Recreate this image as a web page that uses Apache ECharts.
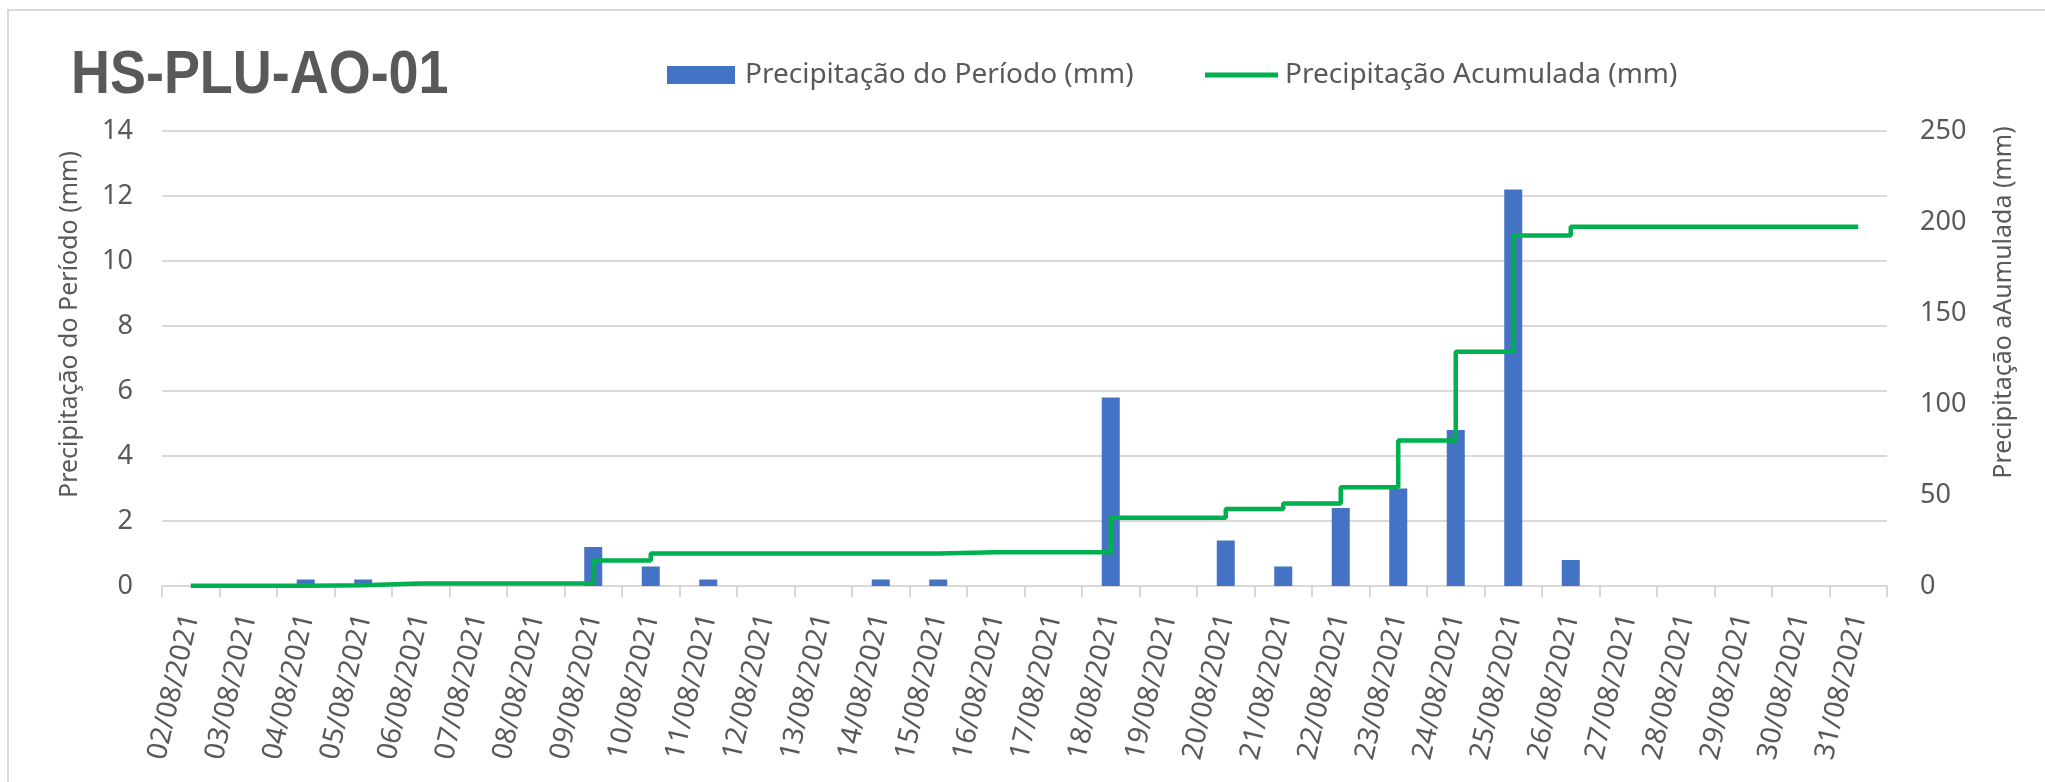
<!DOCTYPE html>
<html>
<head>
<meta charset="utf-8">
<script src="https://cdn.jsdelivr.net/npm/echarts@6/dist/echarts.min.js"></script>
<style>
html,body{margin:0;padding:0;background:#fff;}
#chart{width:2045px;height:782px;}
</style>
</head>
<body>
<div id="chart"></div>
<script>
const titleText = 'HS-PLU-AO-01';
const barName = 'Precipitação do Período (mm)';
const lineName = 'Precipitação Acumulada (mm)';
const leftAxisName = 'Precipitação do Período (mm)';
const rightAxisName = 'Precipitação aAumulada (mm)';

const dates = ['02/08/2021','03/08/2021','04/08/2021','05/08/2021','06/08/2021','07/08/2021','08/08/2021','09/08/2021','10/08/2021','11/08/2021','12/08/2021','13/08/2021','14/08/2021','15/08/2021','16/08/2021','17/08/2021','18/08/2021','19/08/2021','20/08/2021','21/08/2021','22/08/2021','23/08/2021','24/08/2021','25/08/2021','26/08/2021','27/08/2021','28/08/2021','29/08/2021','30/08/2021','31/08/2021'];

const periodo = [0,0,0.2,0.2,0,0,0,1.2,0.6,0.2,0,0,0.2,0.2,0,0,5.8,0,1.4,0.6,2.4,3.0,4.8,12.2,0.8,0,0,0,0,0];

const acumulada = [0.2,0.2,0.4,1.4,1.4,1.4,1.4,14.0,17.8,17.8,17.8,17.8,17.8,18.6,18.6,18.6,37.5,37.5,42.3,45.3,54.3,79.9,128.7,192.6,197.4,197.4,197.4,197.4,197.4,197.4];

const leftRange = [0, 14, 2];
const rightRange = [0, 250, 50];

const textColor = '#595959';
const gridColor = '#D9D9D9';
const fontMain = '"Noto Sans", "Open Sans", sans-serif';

const chart = echarts.init(document.getElementById('chart'), null, {renderer: 'canvas'});
chart.setOption({
  animation: false,
  backgroundColor: '#ffffff',
  graphic: [{
    type: 'rect',
    shape: {x: 8, y: 10, width: 2100, height: 850},
    style: {fill: 'none', stroke: gridColor, lineWidth: 2},
    silent: true
  }, {
    type: 'text',
    x: 71,
    y: 76,
    scaleX: 0.87,
    silent: true,
    style: {
      text: titleText,
      fontFamily: '"Liberation Sans", Arial, sans-serif',
      fontWeight: 'bold',
      fontSize: 62,
      fill: textColor,
      align: 'left',
      verticalAlign: 'middle'
    }
  }],
  legend: [{
    data: [barName],
    left: 662,
    top: 56,
    itemWidth: 68,
    itemHeight: 18,
    icon: 'rect',
    textStyle: {fontFamily: fontMain, fontSize: 28, color: textColor, padding: [0,0,0,5]}
  }, {
    data: [lineName],
    left: 1200,
    top: 56,
    itemWidth: 73,
    itemHeight: 5,
    icon: 'rect',
    textStyle: {fontFamily: fontMain, fontSize: 28, color: textColor, padding: [0,0,0,2]}
  }],
  grid: {left: 162, right: 158, top: 131, bottom: 196},
  xAxis: {
    type: 'category',
    data: dates,
    boundaryGap: true,
    axisLine: {lineStyle: {color: gridColor, width: 2}},
    axisTick: {show: true, interval: 0, length: 11, lineStyle: {color: gridColor, width: 2}},
    axisLabel: {interval: 0, rotate: 77, margin: 28, fontFamily: fontMain, fontSize: 28, color: textColor}
  },
  yAxis: [{
    type: 'value',
    min: leftRange[0], max: leftRange[1], interval: leftRange[2],
    name: leftAxisName,
    nameLocation: 'middle',
    nameRotate: 90,
    nameGap: 80,
    nameTextStyle: {fontFamily: fontMain, fontSize: 25, color: textColor, padding: [0,0,0,68]},
    axisLine: {show: false},
    axisTick: {show: false},
    axisLabel: {fontFamily: fontMain, fontSize: 27, color: textColor, margin: 29},
    splitLine: {lineStyle: {color: gridColor, width: 2}}
  }, {
    type: 'value',
    position: 'right',
    min: rightRange[0], max: rightRange[1], interval: rightRange[2],
    name: rightAxisName,
    nameLocation: 'middle',
    nameRotate: 90,
    nameGap: 104,
    nameTextStyle: {fontFamily: fontMain, fontSize: 25, color: textColor, padding: [0,0,0,112]},
    axisLine: {show: false},
    axisTick: {show: false},
    axisLabel: {fontFamily: fontMain, fontSize: 27, color: textColor, margin: 33},
    splitLine: {show: false}
  }],
  series: [{
    name: barName,
    type: 'bar',
    yAxisIndex: 0,
    data: periodo,
    barWidth: 18,
    itemStyle: {color: '#4472C4'}
  }, {
    name: lineName,
    type: 'line',
    yAxisIndex: 1,
    data: acumulada,
    step: 'end',
    showSymbol: false,
    symbol: 'none',
    lineStyle: {color: '#00B050', width: 4.5},
    itemStyle: {color: '#00B050'}
  }]
});
</script>
</body>
</html>
